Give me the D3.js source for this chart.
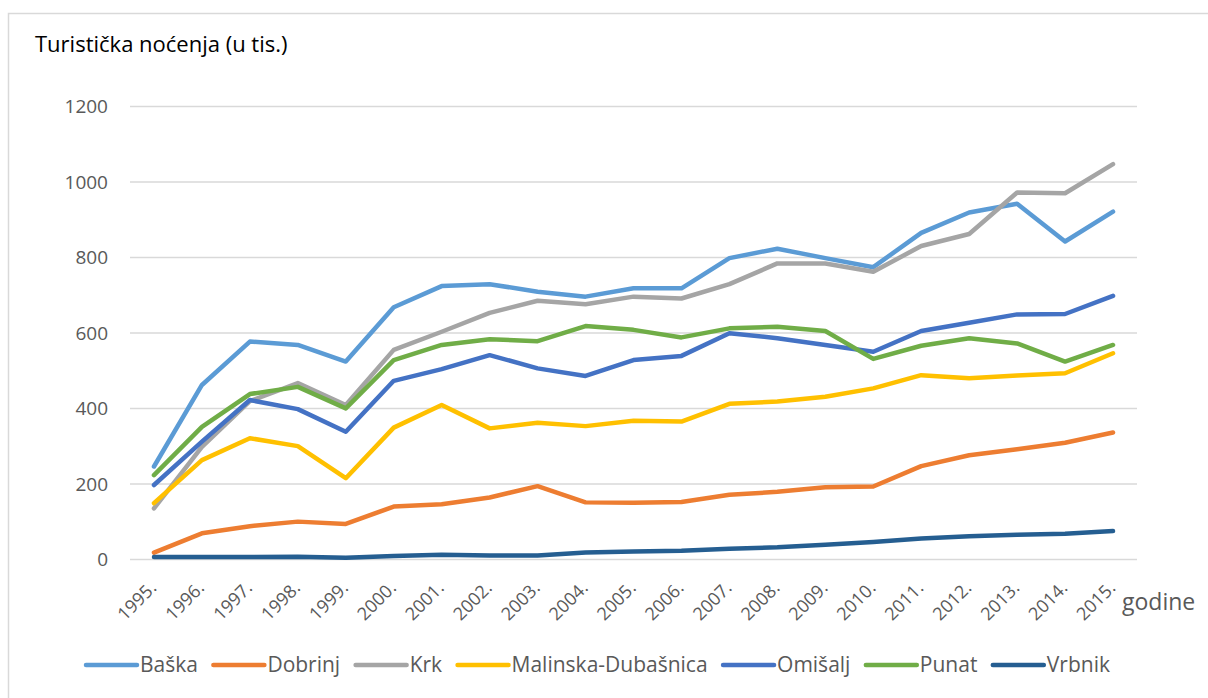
<!DOCTYPE html>
<html>
<head>
<meta charset="utf-8">
<script src="https://cdn.jsdelivr.net/npm/d3@7"></script>
<style>
  html, body { margin: 0; padding: 0; background: #fff; }
  svg { display: block; }
  text { font-family: "Open Sans", Lato, sans-serif; }
</style>
</head>
<body>
<svg id="chart" width="1208" height="698"></svg>
<script>
const years = ["1995.","1996.","1997.","1998.","1999.","2000.","2001.","2002.","2003.","2004.","2005.","2006.","2007.","2008.","2009.","2010.","2011.","2012.","2013.","2014.","2015."];
const yTicks = [0, 200, 400, 600, 800, 1000, 1200];
const seriesNames = ["Baška","Dobrinj","Krk","Malinska-Dubašnica","Omišalj","Punat","Vrbnik"];
const seriesColors = ["#5B9BD5","#ED7D31","#A5A5A5","#FFC000","#4472C4","#70AD47","#255E91"];
const baska    = [245,461,576,567,523,667,723,728,708,695,717,717,797,822,797,773,864,918,941,841,920];
const dobrinj  = [17,68,87,99,93,139,145,163,193,150,149,151,170,178,190,192,246,275,291,308,335];
const krk      = [134,297,418,466,408,554,602,652,684,675,695,690,728,783,783,761,829,861,971,969,1046];
const malinska = [148,262,320,299,214,348,408,346,361,352,366,364,411,417,430,452,487,479,486,492,545];
const omisalj  = [196,311,421,397,337,472,503,540,505,485,527,538,598,585,567,549,604,626,648,649,697];
const punat    = [222,350,437,456,399,527,567,582,577,617,607,587,611,615,604,530,565,585,571,523,567];
const vrbnik   = [5,5,5,6,3,8,11,9,9,17,20,22,27,31,38,45,54,60,64,67,74];
const seriesValues = [baska, dobrinj, krk, malinska, omisalj, punat, vrbnik];
const titleText = "Turistička noćenja (u tis.)";
const xAxisTitle = "godine";

(function () {
const FONT = "'Open Sans', Lato, sans-serif";
const svg = d3.select("#chart");
const pLeft = 130, pRight = 1137, pTop = 106, pBottom = 559;

// outer border
svg.append("rect").attr("x", 8.5).attr("y", 13.5).attr("width", 1210).attr("height", 700)
  .attr("fill", "none").attr("stroke", "#D9D9D9").attr("stroke-width", 1.5);

const x = d3.scalePoint().domain(years).range([pLeft, pRight]).padding(0.5);
const y = d3.scaleLinear().domain([0, 1200]).range([pBottom, pTop]);

// gridlines + y labels
const yAxis = d3.axisLeft(y).tickValues(yTicks).tickSize(-(pRight - pLeft)).tickPadding(22).tickFormat(d3.format("d"));
const gy = svg.append("g").attr("transform", `translate(${pLeft},0)`).call(yAxis);
gy.select(".domain").remove();
gy.selectAll(".tick line").attr("stroke", "#D9D9D9").attr("stroke-width", 1.5);
gy.selectAll(".tick text").attr("fill", "#595959").attr("font-size", 19).attr("font-family", FONT).attr("dy", "0.35em");

// x labels
const xAxis = d3.axisBottom(x).tickSize(0).tickPadding(0);
const gx = svg.append("g").attr("transform", `translate(0,${pBottom})`).call(xAxis);
gx.select(".domain").remove();
gx.selectAll(".tick text")
  .attr("fill", "#595959").attr("font-size", 18).attr("font-family", FONT)
  .attr("text-anchor", "end").attr("dy", 0).attr("y", 0)
  .attr("transform", "translate(3,30) rotate(-45)");

// lines
const line = d3.line().x((d, i) => x(years[i])).y(d => y(d));
svg.append("g").selectAll("path").data(seriesValues).join("path")
  .attr("d", d => line(d))
  .attr("fill", "none")
  .attr("stroke", (d, i) => seriesColors[i])
  .attr("stroke-width", 4.5)
  .attr("stroke-linejoin", "round")
  .attr("stroke-linecap", "round");

// title
svg.append("text").attr("x", 35).attr("y", 52).attr("font-size", 22).attr("fill", "#000").text(titleText);
// x axis title
svg.append("text").attr("x", 1122).attr("y", 610).attr("font-size", 23).attr("fill", "#595959").text(xAxisTitle);

// legend
const legY = 665;
const lg = svg.append("g");
const items = lg.selectAll("g").data(seriesNames).join("g");
items.append("line").attr("x1", 0).attr("x2", 51).attr("y1", legY).attr("y2", legY)
  .attr("stroke", (d, i) => seriesColors[i]).attr("stroke-width", 4.5).attr("stroke-linecap", "round");
items.append("text").attr("x", 54).attr("y", legY + 7).attr("font-size", 21).attr("fill", "#595959").text(d => d);
const widths = [];
items.each(function () { widths.push(54 + this.querySelector("text").getComputedTextLength()); });
const legLeft = 86, legRight = 1110;
const gap = ((legRight - legLeft) - d3.sum(widths)) / (widths.length - 1);
let start = legLeft;
items.attr("transform", (d, i) => {
  const t = `translate(${start},0)`;
  start += widths[i] + gap;
  return t;
});
})();
</script>
</body>
</html>
